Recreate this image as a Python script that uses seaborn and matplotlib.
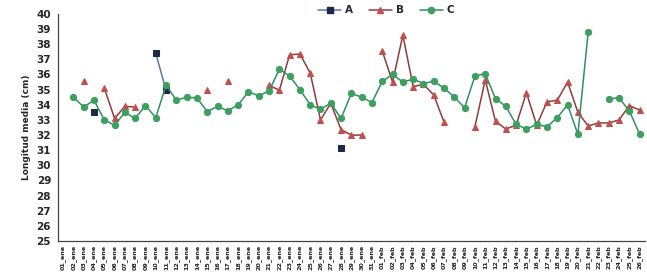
import numpy as np
import pandas as pd
import seaborn as sns
import matplotlib.pyplot as plt
from matplotlib.lines import Line2D

dias = [f"{d:02d}_ene" for d in range(1, 32)] + [f"{d:02d}_feb" for d in range(1, 27)]

N = None
serie_a = [N, N, N, 33.5, N, N, N, N, N, 37.4, 34.95, N, N, N, N, N, N, N, N, N,
           N, N, N, N, N, N, N, 31.15, N, N, N, N, N, N, N, N, N, N, N, N,
           N, N, N, N, N, N, N, N, N, N, N, N, N, N, N, N, N]
serie_b = [N, N, 35.6, N, 35.1, 33.1, 33.9, 33.85, N, N, N, N, N, N, 35.0, N, 35.6, N, N, N,
           35.3, 34.95, 37.3, 37.35, 36.1, 33.0, 34.1, 32.35, 32.0, 32.0, N, 37.55, 35.5, 38.6, 35.2, 35.35, 34.65, 32.85, N, N,
           32.55, 35.65, 32.9, 32.4, 32.65, 34.8, 32.65, 34.2, 34.3, 35.5, 33.5, 32.6, 32.8, 32.8, 33.0, 33.95, 33.65]
serie_c = [N, 34.5, 33.85, 34.3, 33.0, 32.65, 33.5, 33.1, 33.95, 33.15, 35.3, 34.3, 34.5, 34.45, 33.55, 33.9, 33.6, 34.0, 34.85, 34.6,
           34.9, 36.35, 35.9, 35.0, 34.0, 33.7, 34.1, 33.1, 34.75, 34.5, 34.15, 35.55, 36.0, 35.5, 35.7, 35.4, 35.55, 35.1, 34.5, 33.8,
           35.9, 36.05, 34.4, 33.9, 32.7, 32.4, 32.7, 32.55, 33.15, 34.0, 32.05, 38.8, N, 34.4, 34.45, 33.6, 32.05]

estilos = {
    "A": dict(valores=serie_a, line="#5a78a8", face="#1c2a48", marker="s", ms=4),
    "B": dict(valores=serie_b, line="#8e3c3c", face="#c0504d", marker="^", ms=4.5),
    "C": dict(valores=serie_c, line="#2f8f68", face="#3f9f5f", marker="o", ms=4.5),
}


def to_frame(vals):
    df = pd.DataFrame({"x": np.arange(len(vals)), "y": pd.to_numeric(pd.Series(vals), errors="coerce")})
    # new segment each time there is a gap so the line breaks
    df["seg"] = df["y"].isna().cumsum()
    return df.dropna()


sns.set_style("white")
fig = plt.figure(figsize=(6.47, 2.73), dpi=100)
ax = fig.add_axes([0.0896, 0.117, 0.907, 0.832])

handles = []
for nombre, st in estilos.items():
    df = to_frame(st["valores"])
    sns.lineplot(data=df, x="x", y="y", units="seg", estimator=None, ax=ax,
                 color=st["line"], marker=st["marker"], markersize=st["ms"],
                 markerfacecolor=st["face"], markeredgecolor=st["face"],
                 linewidth=1.1, legend=False)
    handles.append(Line2D([], [], color=st["line"], marker=st["marker"], markersize=st["ms"],
                          markerfacecolor=st["face"], markeredgecolor=st["face"], linewidth=1.1, label=nombre))

ax.set_xlim(-0.5, len(dias) - 0.5)
ax.set_ylim(25, 40)
ax.set_yticks(range(25, 41))
ax.set_yticklabels([str(v) for v in range(25, 41)], fontsize=7.5, fontweight="bold")
ax.set_xticks(range(len(dias)))
ax.set_xticklabels(dias, rotation=90, fontsize=4.6, fontweight="bold")
ax.tick_params(axis="y", length=3, width=0.8, pad=2, color="#444444")
ax.tick_params(axis="x", length=2, width=0.6, pad=1, color="#444444")
ax.set_xlabel("")
ax.set_ylabel("Longitud media (cm)", fontsize=6.5, fontweight="bold", labelpad=4)

for s in ["top", "right"]:
    ax.spines[s].set_visible(False)
for s in ["left", "bottom"]:
    ax.spines[s].set_color("#444444")
    ax.spines[s].set_linewidth(0.9)

fig.legend(handles=handles, loc="center", bbox_to_anchor=(0.597, 0.962), ncol=3, frameon=False,
           prop={"weight": "bold", "size": 7.5}, handlelength=2.2, columnspacing=1.5, handletextpad=0.4)

fig.savefig("out.png", dpi=100)
